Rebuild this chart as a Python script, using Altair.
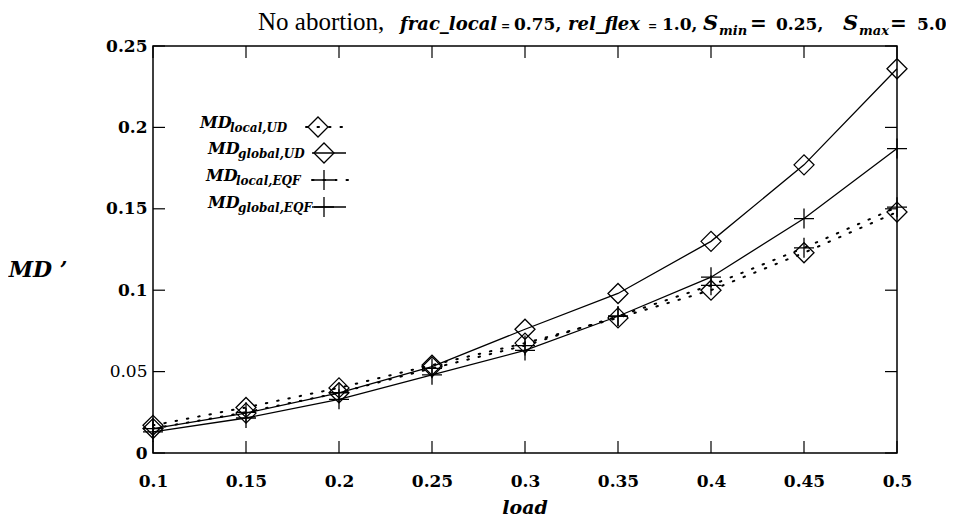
import altair as alt
import pandas as pd

# ---------------- data ----------------
load = [0.1, 0.15, 0.2, 0.25, 0.3, 0.35, 0.4, 0.45, 0.5]
md_local_ud = [0.017, 0.028, 0.040, 0.054, 0.0675, 0.083, 0.100, 0.123, 0.148]
md_global_ud = [0.015, 0.0245, 0.037, 0.053, 0.076, 0.098, 0.130, 0.177, 0.236]
md_local_eqf = [0.015, 0.025, 0.037, 0.052, 0.066, 0.084, 0.103, 0.126, 0.151]
md_global_eqf = [0.013, 0.0215, 0.033, 0.048, 0.063, 0.084, 0.108, 0.144, 0.187]

x_ticks = [0.1, 0.15, 0.2, 0.25, 0.3, 0.35, 0.4, 0.45, 0.5]
y_ticks = [0, 0.05, 0.1, 0.15, 0.2, 0.25]

# ---------------- layout ----------------
W, H = 744, 407          # plot area
OX, OY = 153, 46         # plot origin on the page
PL, PT = OX - 8, OY - 8  # padding (page margin 8px)

MATH = "DejaVu Serif"
ROMAN = "Liberation Serif"

xs = alt.Scale(domain=[0.1, 0.5], nice=False, zero=False)
ys = alt.Scale(domain=[0, 0.25], nice=False)

PLUS = "M-1,0H1M0,-1V1"


def series_layers(values, dotted, shape):
    df = pd.DataFrame({"load": load, "md": values})
    base = alt.Chart(df)
    line_kw = dict(color="black", strokeWidth=1.3)
    if dotted:
        line_kw = dict(color="black", strokeWidth=2, strokeDash=[1.5, 10], strokeCap="round")
    line = base.mark_line(**line_kw).encode(
        x=alt.X("load:Q", scale=xs), y=alt.Y("md:Q", scale=ys)
    )
    pts = base.mark_point(shape=shape, size=400, filled=False, color="black",
                          strokeWidth=1.3, opacity=1).encode(
        x=alt.X("load:Q", scale=xs), y=alt.Y("md:Q", scale=ys)
    )
    return [line, pts]


def text(t, x, y, size, font=MATH, weight="bold", style="italic", align="left",
         baseline="alphabetic"):
    return alt.Chart(pd.DataFrame({"t": [t]})).mark_text(
        font=font, fontSize=size, fontWeight=weight, fontStyle=style,
        align=align, baseline=baseline, color="black"
    ).encode(x=alt.value(x - OX), y=alt.value(y - OY), text="t:N")


layers = []

# main axes (labels only; frame, inward ticks and titles drawn separately)
axis_base = alt.Chart(pd.DataFrame({"load": load, "md": md_global_ud})).mark_point(opacity=0).encode(
    x=alt.X("load:Q", scale=xs, axis=alt.Axis(
        values=x_ticks, format="~g", domain=False, ticks=False, grid=False,
        labelFont=MATH, labelFontWeight="bold", labelFontSize=17, labelPadding=20,
        labelColor="black", labelFlush=False, title=None)),
    y=alt.Y("md:Q", scale=ys, axis=alt.Axis(
        values=y_ticks, format="~g", domain=False, ticks=False, grid=False,
        labelFont=MATH, labelFontSize=17, labelPadding=6, labelColor="black",
        labelFontWeight={"condition": {"test": "abs(datum.value - 0.05) < 0.001", "value": "normal"},
                         "value": "bold"},
        labelFlush=False, title=None)),
)
layers.append(axis_base)

# axis titles
layers.append(text("load", 525, 508, 19, align="center", baseline="middle"))
layers.append(text("MD ’", 38, 270, 22, align="center", baseline="middle"))

# inward tick marks on all four sides
xt = alt.Chart(pd.DataFrame({"v": x_ticks}))
yt = alt.Chart(pd.DataFrame({"v": y_ticks}))
layers.append(xt.mark_rule(color="black", strokeWidth=1.2).encode(
    x=alt.X("v:Q", scale=xs), y=alt.value(H), y2=alt.value(H - 12)))
layers.append(xt.mark_rule(color="black", strokeWidth=1.2).encode(
    x=alt.X("v:Q", scale=xs), y=alt.value(0), y2=alt.value(12)))
layers.append(yt.mark_rule(color="black", strokeWidth=1.2).encode(
    y=alt.Y("v:Q", scale=ys), x=alt.value(0), x2=alt.value(12)))
layers.append(yt.mark_rule(color="black", strokeWidth=1.2).encode(
    y=alt.Y("v:Q", scale=ys), x=alt.value(W), x2=alt.value(W - 12)))

# series
layers += series_layers(md_local_ud, True, "diamond")
layers += series_layers(md_global_ud, False, "diamond")
layers += series_layers(md_local_eqf, True, PLUS)
layers += series_layers(md_global_eqf, False, PLUS)

# legend (manual, gnuplot style)
legend_rows = [
    ("local,UD", 200, 127, True, "diamond", 318),
    ("global,UD", 208, 153, False, "diamond", 324),
    ("local,EQF", 206, 180, True, PLUS, 324),
    ("global,EQF", 208, 207, False, PLUS, 324),
]
for sub, lx, ly, dotted, shape, sx in legend_rows:
    layers.append(text("MD", lx, ly + 1, 16))
    layers.append(text(sub, lx + 30, ly + 5, 12))
    one = alt.Chart(pd.DataFrame({"k": [0]}))
    if dotted:
        layers.append(one.mark_rule(color="black", strokeWidth=2, strokeDash=[1.5, 10],
                                    strokeCap="round").encode(
            x=alt.value(sx - 12 - OX), x2=alt.value(352 - OX), y=alt.value(ly - OY)))
    else:
        layers.append(one.mark_rule(color="black", strokeWidth=1.3).encode(
            x=alt.value(sx - 12 - OX), x2=alt.value(346 - OX), y=alt.value(ly - OY)))
    layers.append(one.mark_point(shape=shape, size=400, filled=False, color="black",
                                 strokeWidth=1.3, opacity=1).encode(
        x=alt.value(sx - OX), y=alt.value(ly - OY)))

# title pieces
TB = 30  # baseline (kept below the 8px page margin)
layers.append(text("No abortion,", 258, TB, 25, font=ROMAN, weight="normal", style="normal"))
layers.append(text("frac_local", 400, TB, 18))
layers.append(text("=", 501, TB, 11, weight="bold", style="normal"))
layers.append(text("0.75,", 514, TB, 17, style="normal"))
layers.append(text("rel_flex", 568, TB, 18))
layers.append(text("=", 648, TB, 11, weight="bold", style="normal"))
layers.append(text("1.0,", 662, TB, 17, style="normal"))
layers.append(text("S", 703, TB, 21))
layers.append(text("min", 719, TB + 5, 13))
layers.append(text("=", 750, TB, 20, weight="bold", style="normal"))
layers.append(text("0.25,", 776, TB, 17, style="normal"))
layers.append(text("S", 843, TB, 21))
layers.append(text("max", 859, TB + 5, 13))
layers.append(text("=", 890, TB, 20, weight="bold", style="normal"))
layers.append(text("5.0", 917, TB, 17, style="normal"))

chart = alt.layer(*layers).properties(
    width=W, height=H,
    autosize=alt.AutoSizeParams(type="none"),
    padding={"left": PL, "top": PT, "right": 49, "bottom": 65},
    background="white",
).configure_view(stroke="black", strokeWidth=1.5)

chart.save("out.html", embed_options={"renderer": "svg", "actions": False})
